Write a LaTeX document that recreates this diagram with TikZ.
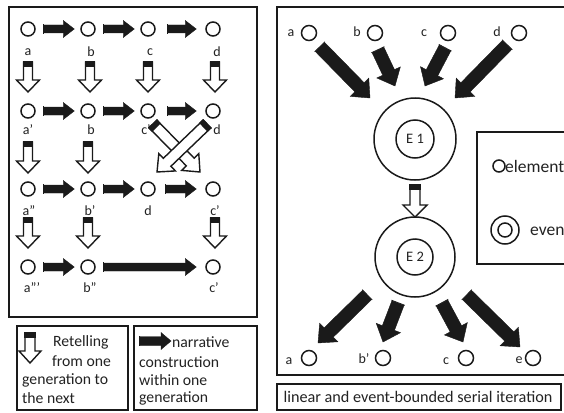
\documentclass[tikz,border=0pt]{standalone}
\usepackage{fontspec}
\setmainfont{Carlito}
\usetikzlibrary{calc}

\definecolor{ink}{HTML}{1A1A1A}
\definecolor{txt}{HTML}{222222}

% Block arrow from #2 to #3: style #1, shaft half-width #4, head half-width #5,
% head length #6, black cap of length #7 at the tail.
\newcommand{\blockarrow}[7]{%
  \path let \p1=(#2), \p2=(#3),
    \n1={atan2(\y2-\y1,\x2-\x1)}, \n2={veclen(\x2-\x1,\y2-\y1)} in
    \pgfextra{\xdef\baang{\n1}\xdef\balen{\n2}\xdef\bax{\x1}\xdef\bay{\y1}};
  \begin{scope}[shift={(\bax,\bay)}, rotate=\baang, x=1pt, y=1pt]
    \draw[#1] (0,-#4) -- ({\balen-#6},-#4) -- ({\balen-#6},-#5) -- (\balen,0)
      -- ({\balen-#6},#5) -- ({\balen-#6},#4) -- (0,#4) -- cycle;
    \fill[ink] (-0.7,{-#4-0.7}) rectangle (#7,{#4+0.7});
  \end{scope}}

\begin{document}
\begin{tikzpicture}[x=1pt,y=-1pt,
  frame/.style={draw=ink, line width=1.6},
  elem/.style={circle, draw=ink, line width=1.5, minimum size=14, inner sep=0},
  lab/.style={font=\fontsize{14}{14}\selectfont, text=txt, inner sep=0},
  txtl/.style={font=\fontsize{15.7}{15.7}\selectfont, text=txt, inner sep=0, anchor=west},
  keytxt/.style={font=\fontsize{17.5}{17.5}\selectfont, text=txt, inner sep=0, anchor=west},
  narr/.style={fill=ink, draw=ink, line width=0.4, line join=miter},
  retell/.style={fill=white, draw=ink, line width=1.4, line join=miter}]
\useasboundingbox (0,0) rectangle (564,412);
\clip (0,0) rectangle (564,412);
\fill[white] (0,0) rectangle (564,412);

% ---------------- left panel: serial retelling ----------------
\draw[frame] (9,7) rectangle (257,317);

% row 1
\node[elem] (a1) at (28,29) {};
\node[elem] (b1) at (88,29) {};
\node[elem] (c1) at (148,29) {};
\node[elem] (d1) at (213,29) {};
\node[lab] (la1) at (28,52) {a};
\node[lab] (lb1) at (91,52) {b};
\node[lab] (lc1) at (150,52) {c};
\node[lab] (ld1) at (217,52) {d};
% row 2
\node[elem] (a2) at (28,111) {};
\node[elem] (b2) at (88,111) {};
\node[elem] (c2) at (148,111) {};
\node[elem] (d2) at (213,111) {};
\node[lab] (la2) at (28,130) {a'};
\node[lab] (lb2) at (91,130) {b};
\node[lab] (lc2) at (146,130) {c'};
\node[lab] (ld2) at (217,130) {d};
% row 3
\node[elem] (a3) at (28,189) {};
\node[elem] (b3) at (88,189) {};
\node[elem] (d3) at (148,189) {};
\node[elem] (c3) at (213,189) {};
\node[lab] (la3) at (29,211) {a''};
\node[lab] (lb3) at (90,211) {b'};
\node[lab] (ld3) at (148,211) {d};
\node[lab] (lc3) at (215,211) {c'};
% row 4
\node[elem] (a4) at (28,267) {};
\node[elem] (b4) at (88,267) {};
\node[elem] (c4) at (213,267) {};
\node[lab] (la4) at (32,288) {a'''};
\node[lab] (lb4) at (90,288) {b''};
\node[lab] (lc4) at (214,288) {c'};

% narrative construction within one generation
\blockarrow{narr}{[xshift=8]a1.east}{[xshift=-6]b1.west}{4}{8.5}{11}{0}
\blockarrow{narr}{[xshift=8]b1.east}{[xshift=-6]c1.west}{4}{8.5}{11}{0}
\blockarrow{narr}{[xshift=12]c1.east}{[xshift=-9]d1.west}{4}{8.5}{11}{0}
\blockarrow{narr}{[xshift=8]a2.east}{[xshift=-6]b2.west}{4}{8.5}{11}{0}
\blockarrow{narr}{[xshift=8]b2.east}{[xshift=-6]c2.west}{4}{8.5}{11}{0}
\blockarrow{narr}{[xshift=12]c2.east}{[xshift=-9]d2.west}{4}{8.5}{11}{0}
\blockarrow{narr}{[xshift=8]a3.east}{[xshift=-6]b3.west}{4}{8.5}{11}{0}
\blockarrow{narr}{[xshift=8]b3.east}{[xshift=-6]d3.west}{4}{8.5}{11}{0}
\blockarrow{narr}{[xshift=10]d3.east}{[xshift=-9]c3.west}{4}{8.5}{11}{0}
\blockarrow{narr}{[xshift=8]a4.east}{[xshift=-6]b4.west}{4}{8.5}{11}{0}
\blockarrow{narr}{[xshift=8]b4.east}{[xshift=-9]c4.west}{4}{8.5}{11}{0}

% retelling from one generation to the next
\coordinate (r1as) at (28,62);  \coordinate (r1ae) at (28,92);
\coordinate (r1bs) at (90,62);  \coordinate (r1be) at (90,92);
\coordinate (r1cs) at (148,62); \coordinate (r1ce) at (148,92);
\coordinate (r1ds) at (215,62); \coordinate (r1de) at (215,92);
\coordinate (r2as) at (28,142); \coordinate (r2ae) at (28,173);
\coordinate (r2bs) at (88,142); \coordinate (r2be) at (88,173);
\coordinate (r3as) at (28,218); \coordinate (r3ae) at (28,248);
\coordinate (r3bs) at (88,218); \coordinate (r3be) at (88,248);
\coordinate (r3cs) at (215,218); \coordinate (r3ce) at (215,248);
\foreach \s/\e in {r1as/r1ae,r1bs/r1be,r1cs/r1ce,r1ds/r1de,r2as/r2ae,r2bs/r2be,r3as/r3ae,r3bs/r3be,r3cs/r3ce}
  {\blockarrow{retell}{\s}{\e}{4.5}{11.5}{12}{5}}
% crossed retelling of c' and d
\coordinate (xcs) at (153,124); \coordinate (xce) at (200,172);
\coordinate (xds) at (207,124); \coordinate (xde) at (157,172);
\blockarrow{retell}{xcs}{xce}{5.5}{12}{14}{5}
\blockarrow{retell}{xds}{xde}{5.5}{12}{14}{5}

% legend boxes
\draw[frame] (17,326) rectangle (128,410);
\draw[frame] (134,326) rectangle (257,410);
\coordinate (lgrs) at (30,333); \coordinate (lgre) at (30,363);
\blockarrow{retell}{lgrs}{lgre}{5}{11}{12}{5}
\node[txtl] (t1) at (53,342) {Retelling};
\node[txtl] (t2) at (52,361) {from one};
\node[txtl] (t3) at (22,380) {generation to};
\node[txtl] (t4) at (22,398) {the next};
\coordinate (lgns) at (140,341); \coordinate (lgne) at (171,341);
\blockarrow{narr}{lgns}{lgne}{4.5}{8.5}{10}{0}
\node[txtl] (t5) at (172,342) {narrative};
\node[txtl] (t6) at (139,362) {construction};
\node[txtl] (t7) at (139,380) {within one};
\node[txtl] (t8) at (139,398) {generation};

% ---------------- right panel: event-bounded iteration ----------------
\draw[frame] (277,7) rectangle (580,375);

\node[elem, minimum size=15] (ta) at (309,33) {};
\node[elem, minimum size=15] (tb) at (375,33) {};
\node[elem, minimum size=15] (tc) at (448,33) {};
\node[elem, minimum size=15] (td) at (519,33) {};
\node[lab] (lta) at (291,33) {a};
\node[lab] (ltb) at (357,32) {b};
\node[lab] (ltc) at (424,33) {c};
\node[lab] (ltd) at (497,32) {d};

\node[elem, minimum size=82] (e1) at (415,139) {};
\node[elem, minimum size=38, font=\fontsize{14.5}{14.5}\selectfont, text=txt] (e1i) at (415,139) {E 1};
\node[elem, minimum size=80] (e2) at (415,257) {};
\node[elem, minimum size=36, font=\fontsize{14.5}{14.5}\selectfont, text=txt] (e2i) at (415,257) {E 2};

\coordinate (ias) at (320,47); \coordinate (iae) at (370,98);
\coordinate (ibs) at (378,50); \coordinate (ibe) at (395,86);
\coordinate (ics) at (445,48); \coordinate (ice) at (425,86);
\coordinate (ids) at (507,45); \coordinate (ide) at (455,98);
\foreach \s/\e in {ias/iae,ibs/ibe,ics/ice,ids/ide}
  {\blockarrow{narr}{\s}{\e}{6.5}{13}{15}{0}}

\coordinate (ees) at (415,185); \coordinate (eee) at (415,217);
\blockarrow{retell}{ees}{eee}{5}{12}{12}{5}

\coordinate (oas) at (367,295); \coordinate (oae) at (318,343);
\coordinate (obs) at (398,303); \coordinate (obe) at (383,342);
\coordinate (ocs) at (442,303); \coordinate (oce) at (463,342);
\coordinate (oes) at (467,295); \coordinate (oee) at (520,347);
\foreach \s/\e in {oas/oae,obs/obe,ocs/oce,oes/oee}
  {\blockarrow{narr}{\s}{\e}{6.5}{13}{15}{0}}

\node[elem, minimum size=15] (ba) at (309,358) {};
\node[elem, minimum size=15] (bb) at (383,358) {};
\node[elem, minimum size=15] (bc) at (466,358) {};
\node[elem, minimum size=15] (be) at (533,358) {};
\node[lab] (lba) at (289,361) {a};
\node[lab] (lbb) at (364,359) {b'};
\node[lab] (lbc) at (446,361) {c};
\node[lab] (lbe) at (519,360) {e};

% key
\draw[frame] (477,132) rectangle (585,264);
\node[elem, minimum size=12] (ke) at (499,166) {};
\node[keytxt] (kel) at (505,166) {elements};
\node[elem, minimum size=28] (kv) at (505,230) {};
\node[elem, minimum size=14] (kvi) at (505,230) {};
\node[keytxt] (kvl) at (530,230) {events};

% caption
\draw[frame] (277,384) rectangle (561,410);
\node[txtl, anchor=center, font=\fontsize{16.2}{16.2}\selectfont] (cap) at (418,397) {linear and event-bounded serial iteration};
\end{tikzpicture}
\end{document}
